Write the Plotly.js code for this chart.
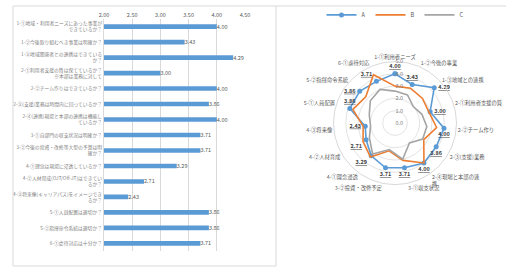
<!DOCTYPE html>
<html><head><meta charset="utf-8">
<script src="https://cdn.plot.ly/plotly-3.0.1.min.js"></script>
<style>html,body{margin:0;padding:0;background:#fff}</style>
</head><body>
<div id="chart" style="width:506px;height:268px"></div>
<script>
var barLabels = [
  "1-①地域・利用者ニーズにあった事業が<br>できているか？",
  "1-②今後取り組むべき事業は明確か？",
  "1-③地域関係者との連携はできている<br>か？",
  "2-①利用者支援の質は保てているか？<br>※本部は業務に対して",
  "2-②チーム作りはできているか？",
  "2-③(支援)業務は時間内に回っているか？",
  "2-④(連携)現場と本部の連携は機能し<br>ているか？",
  "3-①自部門の収支状況は明確か？",
  "3-②今後の投資・改修等大型の予算は明<br>確か？",
  "4-①理念は現場に浸透しているか？",
  "4-②人材育成(OJT/Off-JT)はできてい<br>るか？",
  "4-③将来像(キャリアパス)をイメージでき<br>るか？",
  "5-①人員配置は適切か？",
  "5-②指揮命令系統は適切か？",
  "6-①虐待対応は十分か？"
];
var radarLabels = [
  "1-①利用者ニーズ","1-②今後の事業","1-③地域との連携","2-①利用者支援の質",
  "2-②チーム作り","2-③(支援)業務","2-④現場と本部の連<br>携","3-①収支状況",
  "3-②投資・改修予定","4-①理念浸透","4-②人材育成","4-③将来像",
  "5-①人員配置","5-②指揮命令系統","6-①虐待対応"
];
var seriesA = [4.00,3.43,4.29,3.00,4.00,3.86,4.00,3.71,3.71,3.29,2.71,2.43,3.86,3.86,3.71];
var seriesB = [3.0,3.1,3.0,2.9,3.4,2.7,4.0,3.1,2.3,3.4,3.0,2.6,3.6,3.2,4.3];
var seriesC = [2.6,2.5,2.0,2.3,2.6,2.6,2.0,3.0,2.2,3.1,2.4,2.0,2.2,2.7,3.0];
var xTicks = [2.0,2.5,3.0,3.5,4.0,4.5];
var radialTicks = [0,1,2,3,4,5];

var W=506,H=268;
var FONT = "Noto Sans CJK JP, sans-serif";
var labelPos = ['top center','top center','middle right','middle right','bottom center','bottom center',
  'bottom center','bottom center','bottom center','bottom left','bottom left','middle left',
  'top center','middle left','top left'];

function closeArr(a){return a.concat([a[0]]);}

var traces = [
  {type:'bar', orientation:'h', x:seriesA, y:barLabels,
   marker:{color:'#5b9bd5'}, width:0.3, xaxis:'x', yaxis:'y', showlegend:false,
   text:seriesA.map(function(v){return v.toFixed(2);}), textposition:'outside', constraintext:'none',
   cliponaxis:false, textfont:{size:5.5,color:'#595959',family:FONT}, hoverinfo:'none'},
  {type:'scatterpolar', r:closeArr(seriesA), theta:closeArr(radarLabels), name:'A',
   mode:'lines+markers+text', line:{color:'#5b9bd5',width:1.6}, marker:{size:5,color:'#5b9bd5'},
   text:seriesA.map(function(v){return '<b><u>'+v.toFixed(2)+'</u></b>';}).concat(['']),
   textposition:labelPos.concat(['top center']), textfont:{size:5.5,color:'#404040',family:FONT}},
  {type:'scatterpolar', r:closeArr(seriesB), theta:closeArr(radarLabels), name:'B',
   mode:'lines', line:{color:'#ed7d31',width:1.6}},
  {type:'scatterpolar', r:closeArr(seriesC), theta:closeArr(radarLabels), name:'C',
   mode:'lines', line:{color:'#a5a5a5',width:1.6}}
];

var layout = {
  width:W, height:H, margin:{l:0,r:0,t:0,b:0},
  paper_bgcolor:'#fff', plot_bgcolor:'rgba(0,0,0,0)',
  font:{family:FONT, size:6, color:'#595959'},
  xaxis:{domain:[104/W,245/W], range:[2,4.5], side:'top', tickvals:xTicks,
    ticktext:xTicks.map(function(v){return v.toFixed(2);}), showgrid:true, gridcolor:'#d9d9d9',
    gridwidth:1, zeroline:false, showline:false, ticks:'', tickfont:{size:5.5,color:'#595959'}, fixedrange:true},
  yaxis:{domain:[(H-251)/H,(H-17)/H], autorange:'reversed', type:'category', showgrid:false,
    showline:true, linecolor:'#d9d9d9', ticks:'', tickfont:{size:4.8,color:'#7f7f7f'}, fixedrange:true},
  polar:{domain:{x:[333/W,457/W], y:[(H-184)/H,(H-60)/H]}, bgcolor:'rgba(0,0,0,0)', gridshape:'circular',
    radialaxis:{range:[0,5], tickvals:radialTicks, ticktext:radialTicks.map(function(v){return v.toFixed(1);}),
      angle:90, tickangle:90, showline:false, gridcolor:'#e3e3e3', ticks:'', tickfont:{size:5.5,color:'#7f7f7f'}},
    angularaxis:{direction:'clockwise', rotation:90, showgrid:false, linecolor:'#d9d9d9', ticks:'',
      tickfont:{size:5.3,color:'#595959'}}},
  showlegend:true,
  legend:{orientation:'h', x:395/W, xanchor:'center', y:(H-13)/H, yanchor:'middle',
    font:{size:5.5,color:'#595959'}, bgcolor:'rgba(0,0,0,0)', itemwidth:30},
  shapes:[
    {type:'rect', xref:'paper', yref:'paper', x0:13/W, x1:276/W, y0:(H-266)/H, y1:(H-4)/H,
     line:{color:'#d9d9d9',width:1}},
    {type:'line', xref:'paper', yref:'paper', x0:276/W, x1:1, y0:(H-4)/H, y1:(H-4)/H,
     line:{color:'#d9d9d9',width:1}}
  ]
};
Plotly.newPlot('chart', traces, layout, {staticPlot:true, displayModeBar:false});
</script>
</body></html>
